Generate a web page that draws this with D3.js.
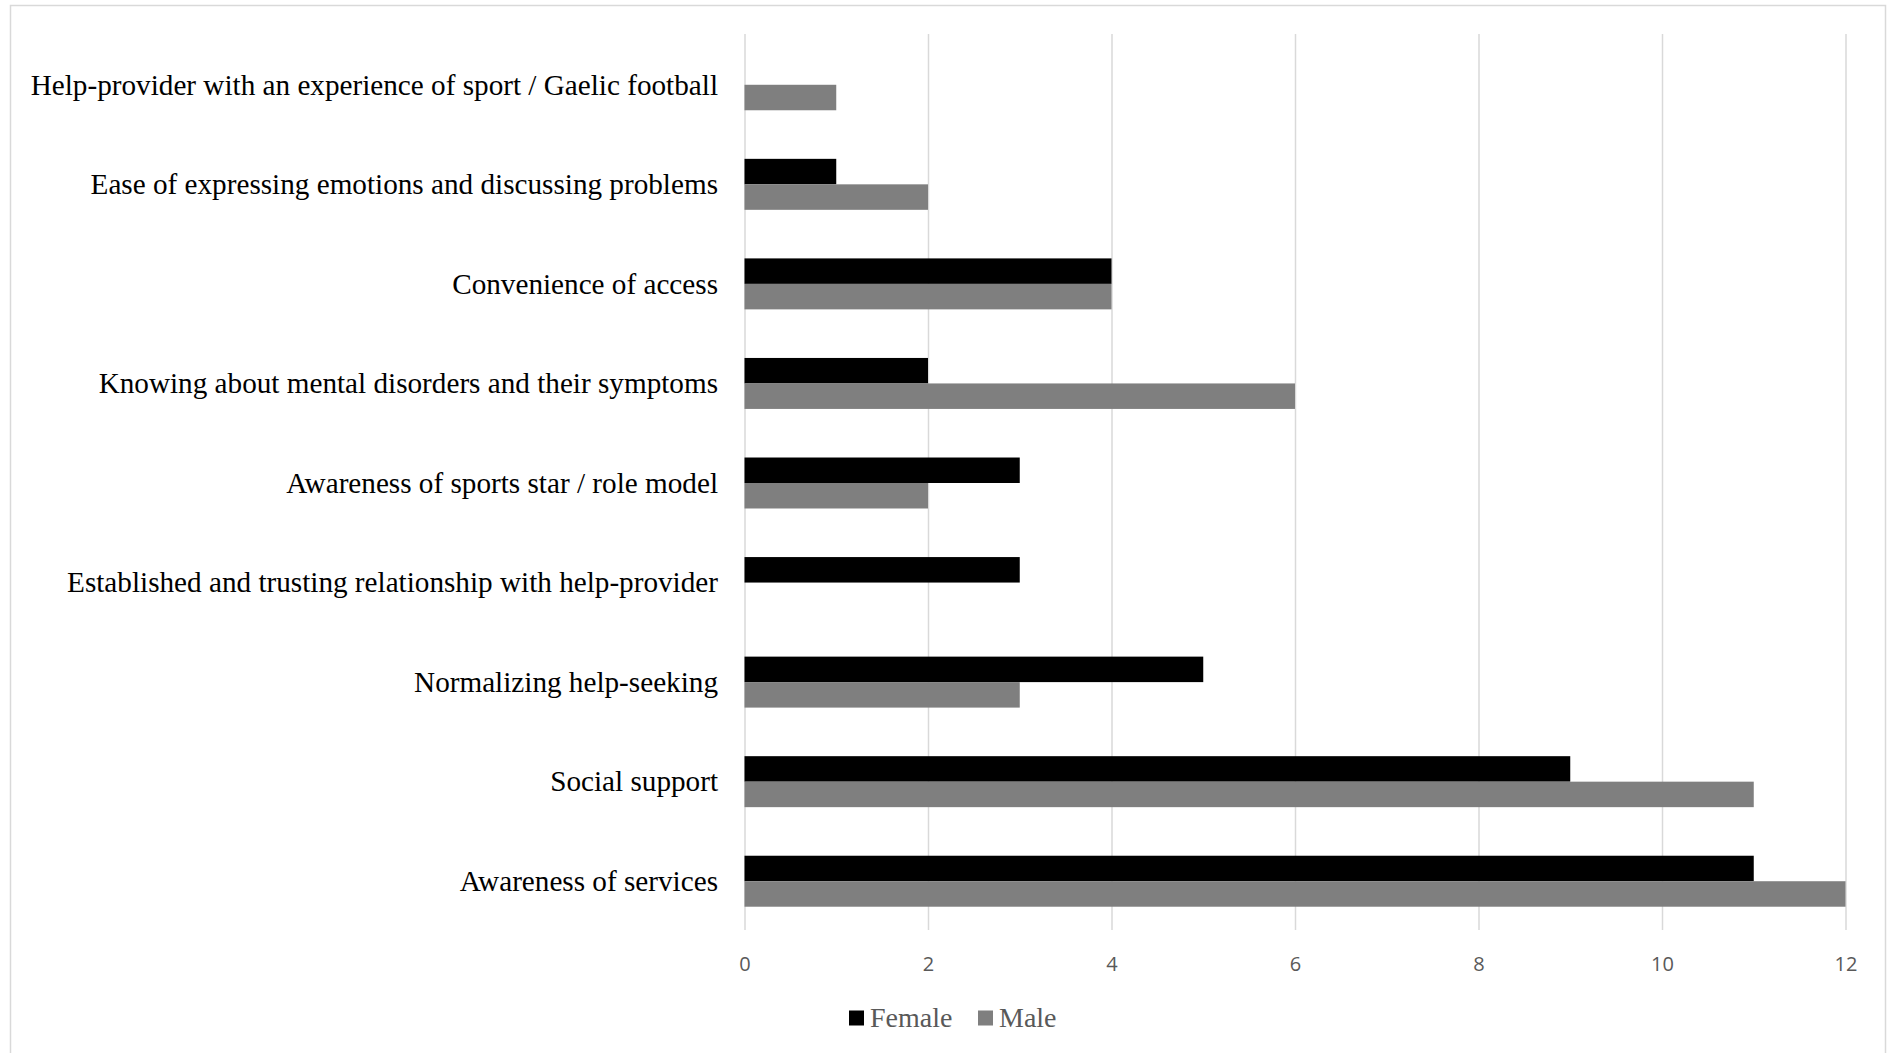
<!DOCTYPE html>
<html>
<head>
<meta charset="utf-8">
<script src="https://cdn.jsdelivr.net/npm/d3@7"></script>
<style>
  html, body { margin: 0; padding: 0; background: #fff; }
</style>
</head>
<body>
<div id="chart"></div>
<script>
// categories listed top to bottom as they appear
const categories = [
    "Help-provider with an experience of sport / Gaelic football",
    "Ease of expressing emotions and discussing problems",
    "Convenience of access",
    "Knowing about mental disorders and their symptoms",
    "Awareness of sports star / role model",
    "Established and trusting relationship with help-provider",
    "Normalizing help-seeking",
    "Social support",
    "Awareness of services"
]
const female = [0, 1, 4, 2, 3, 3, 5, 9, 11]
const male = [1, 2, 4, 6, 2, 0, 3, 11, 12]
const seriesNames = ["Female", "Male"]
const seriesColors = ["#000000", "#7f7f7f"]
const xTicks = [0, 2, 4, 6, 8, 10, 12]

const W = 1890, H = 1053
const plot = { left: 744.5, right: 1845.5, top: 34, bottom: 930 }

var svg = d3.select("#chart")
    .append("svg")
    .attr("width", W)
    .attr("height", H)

// light chart frame
svg.append("rect")
    .attr("x", 10.5).attr("y", 5.5)
    .attr("width", 1875).attr("height", 1060)
    .attr("fill", "none")
    .attr("stroke", "#d9d9d9")
    .attr("stroke-width", 1.5)

var x = d3.scaleLinear()
    .domain([0, 12])
    .range([plot.left, plot.right])

var y = d3.scaleBand()
    .domain(categories)
    .range([plot.top, plot.bottom])
    .padding(0)

var y1 = d3.scaleBand()
    .domain(seriesNames)
    .range([0, y.bandwidth()])
    .paddingInner(0)
    .paddingOuter(0.953)

// gridlines
svg.append("g")
    .attr("transform", `translate(0,${plot.top})`)
    .call(d3.axisTop(x).tickValues(xTicks).tickSize(-(plot.bottom - plot.top)).tickFormat(""))
    .call(g => g.select(".domain").remove())
    .call(g => g.selectAll("line").attr("stroke", "#d9d9d9").attr("stroke-width", 1.5))

// tick labels
svg.append("g")
    .attr("transform", `translate(0,${plot.bottom})`)
    .call(d3.axisBottom(x).tickValues(xTicks).tickSize(0).tickPadding(27))
    .call(g => g.select(".domain").remove())
    .call(g => g.selectAll("text")
        .attr("fill", "#595959")
        .style("font-family", "'Open Sans', sans-serif")
        .style("font-size", "20px"))

// bars
var rows = categories.map((c, i) => ({ cat: c, values: [female[i], male[i]] }))

var groups = svg.append("g")
    .selectAll("g")
    .data(rows)
    .enter()
    .append("g")
    .attr("transform", d => `translate(0,${y(d.cat)})`)

groups.selectAll("rect")
    .data(d => d.values.map((v, j) => ({ name: seriesNames[j], value: v, color: seriesColors[j] })))
    .enter()
    .append("rect")
    .attr("x", x(0))
    .attr("y", d => y1(d.name) + 1)
    .attr("width", d => x(d.value) - x(0))
    .attr("height", y1.bandwidth())
    .attr("fill", d => d.color)

// category labels
svg.append("g")
    .selectAll("text")
    .data(categories)
    .enter()
    .append("text")
    .attr("x", 718)
    .attr("y", d => y(d) + y.bandwidth() / 2)
    .attr("dy", "0.37em")
    .attr("text-anchor", "end")
    .style("font-family", "'Liberation Serif', 'Times New Roman', serif")
    .style("font-size", "29.2px")
    .attr("fill", "#000")
    .text(d => d)

// legend
var legendX = [849, 978]
var legend = svg.append("g")
    .selectAll("g")
    .data(seriesNames)
    .enter()
    .append("g")
    .attr("transform", (d, i) => `translate(${legendX[i]},1018)`)

legend.append("rect")
    .attr("x", 0).attr("y", -7.5)
    .attr("width", 15).attr("height", 15)
    .attr("fill", (d, i) => seriesColors[i])

legend.append("text")
    .attr("x", 21)
    .attr("y", 9)
    .style("font-family", "'Liberation Serif', 'Times New Roman', serif")
    .style("font-size", "28px")
    .attr("fill", "#595959")
    .text(d => d)
</script>
</body>
</html>
